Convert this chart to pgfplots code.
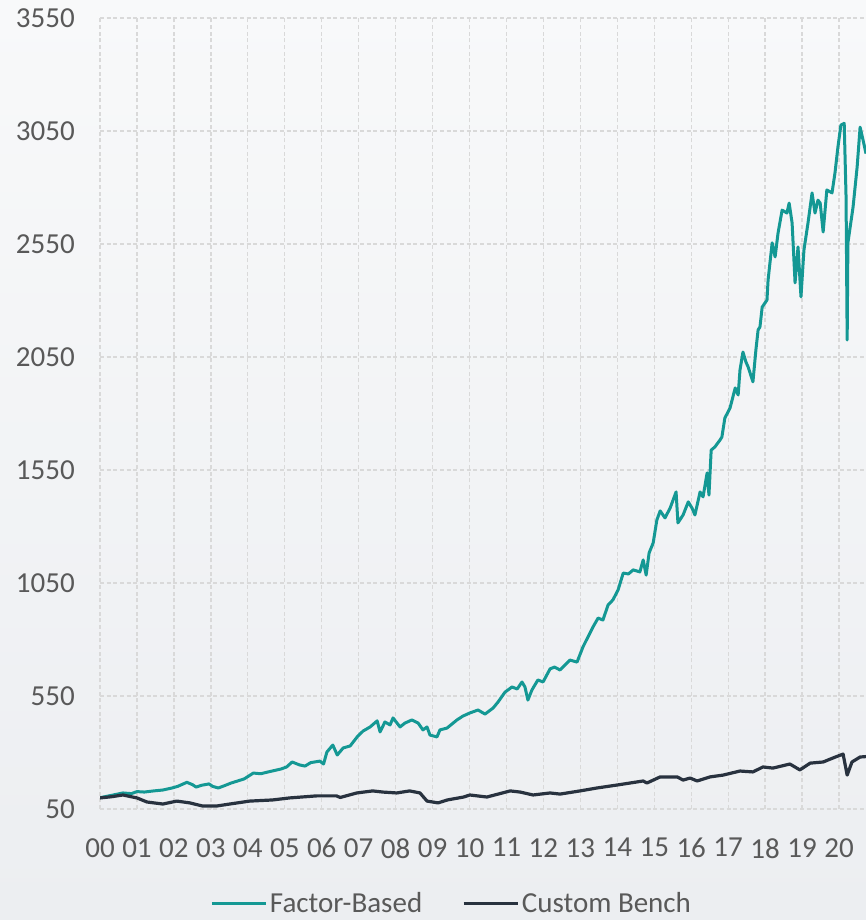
\documentclass[border=0pt]{standalone}
\usepackage{fontspec}
\setmainfont{Carlito}
\usepackage{pgfplots}
\pgfplotsset{compat=1.18}
\definecolor{tealc}{HTML}{149894}
\definecolor{navyc}{HTML}{28323F}
\definecolor{txtc}{HTML}{595959}
\definecolor{gridc}{HTML}{D9D9D9}
\definecolor{bgtop}{HTML}{F8F9FA}
\definecolor{bgbot}{HTML}{ECEEF1}
\begin{document}
\begin{tikzpicture}
\shade[top color=bgtop, bottom color=bgbot] (0,0) rectangle (649.5pt,690pt);
\begin{axis}[
  at={(75pt,83.25pt)}, anchor=south west, scale only axis,
  width=574.5pt, height=593.25pt,
  xmin=2000, xmax=2020.73, ymin=50, ymax=3550,
  xtick={2000,2001,2002,2003,2004,2005,2006,2007,2008,2009,2010,2011,2012,2013,2014,2015,2016,2017,2018,2019,2020},
  xticklabels={00,01,02,03,04,05,06,07,08,09,10,11,12,13,14,15,16,17,18,19,20},
  ytick={50,550,1050,1550,2050,2550,3050,3550},
  axis line style={draw=none}, major tick length=0pt,
  grid=major,
  major grid style={gridc, line width=1pt, dash pattern=on 3pt off 2pt},
  tick label style={font=\fontsize{21.75}{24}\selectfont, text=txtc},
  /pgf/number format/assume math mode=true,
  /pgf/number format/1000 sep={},
  yticklabel style={anchor=east, inner sep=0pt, xshift=-18.75pt},
  xticklabel style={anchor=north, inner sep=0pt, yshift=-21.75pt},
  legend style={at={(0.4595,-0.1190)}, anchor=center, draw=none, fill=none,
    font=\fontsize{21.75}{24}\selectfont, text=txtc,
    /tikz/every even column/.append style={column sep=28pt}},
  legend columns=2,
  legend image code/.code={\draw[#1, line width=2.25pt] (0pt,0pt) -- (40.5pt,0pt);},
]
\addplot[tealc, line width=2.25pt, line join=round] table {
2000.00 100
2000.30 110
2000.62 121
2000.85 118
2001.00 127
2001.20 125
2001.45 130
2001.70 134
2001.95 143
2002.10 150
2002.35 168
2002.50 158
2002.60 147
2002.75 155
2002.95 161
2003.05 150
2003.20 143
2003.35 152
2003.55 165
2003.90 183
2004.15 209
2004.35 206
2004.55 214
2004.90 227
2005.05 236
2005.20 258
2005.40 245
2005.55 240
2005.70 255
2005.95 262
2006.05 249
2006.14 302
2006.30 333
2006.42 289
2006.58 320
2006.77 329
2006.96 369
2007.12 395
2007.31 413
2007.50 440
2007.58 391
2007.71 435
2007.85 422
2007.93 453
2008.12 413
2008.25 430
2008.44 444
2008.61 430
2008.74 400
2008.85 413
2008.93 377
2009.12 369
2009.20 400
2009.39 408
2009.66 444
2009.82 461
2010.01 475
2010.23 488
2010.42 470
2010.64 497
2010.77 523
2010.96 567
2011.15 590
2011.29 581
2011.42 612
2011.50 590
2011.58 532
2011.69 577
2011.85 621
2011.99 612
2012.18 670
2012.30 678
2012.45 665
2012.60 690
2012.72 709
2012.91 700
2013.07 767
2013.26 829
2013.34 855
2013.48 895
2013.61 886
2013.75 953
2013.88 975
2014.02 1019
2014.16 1094
2014.30 1090
2014.43 1108
2014.61 1099
2014.70 1152
2014.78 1085
2014.86 1183
2014.97 1227
2015.07 1329
2015.16 1369
2015.29 1338
2015.43 1382
2015.59 1453
2015.64 1316
2015.78 1351
2015.92 1409
2016.02 1382
2016.10 1351
2016.24 1453
2016.32 1431
2016.43 1537
2016.48 1439
2016.54 1638
2016.64 1652
2016.78 1683
2016.83 1696
2016.91 1780
2017.05 1824
2017.19 1913
2017.27 1882
2017.32 1993
2017.40 2072
2017.48 2028
2017.54 2006
2017.67 1940
2017.75 2081
2017.81 2170
2017.86 2183
2017.92 2271
2018.05 2302
2018.08 2391
2018.19 2555
2018.27 2493
2018.35 2599
2018.46 2700
2018.59 2687
2018.65 2731
2018.73 2643
2018.81 2378
2018.89 2537
2018.97 2316
2019.05 2523
2019.16 2643
2019.27 2776
2019.35 2687
2019.43 2744
2019.49 2731
2019.57 2603
2019.67 2789
2019.81 2776
2019.89 2864
2019.97 2979
2020.05 3076
2020.14 3084
2020.19 2758
2020.22 2125
2020.24 2555
2020.38 2714
2020.49 2891
2020.57 3067
2020.65 3010
2020.73 2950
};
\addlegendentry{Factor-Based}
\addplot[navyc, line width=2.4pt, line join=round] table {
2000.00 99
2000.30 104
2000.62 112
2001.00 99
2001.27 81
2001.70 72
2002.08 85
2002.43 77
2002.78 63
2003.15 63
2003.51 72
2004.05 85
2004.67 90
2005.13 99
2005.86 108
2006.40 108
2006.50 101
2006.95 121
2007.38 130
2007.65 125
2008.03 121
2008.38 130
2008.66 121
2008.85 85
2009.15 77
2009.40 90
2009.84 103
2010.01 112
2010.47 103
2011.10 130
2011.37 125
2011.72 112
2012.18 121
2012.45 116
2012.99 130
2013.45 143
2013.99 156
2014.70 174
2014.80 165
2015.16 192
2015.62 192
2015.78 178
2015.97 187
2016.16 174
2016.51 192
2016.86 200
2017.32 218
2017.67 214
2017.94 236
2018.21 231
2018.67 249
2018.94 223
2019.22 253
2019.57 258
2019.84 276
2020.11 293
2020.22 200
2020.35 258
2020.57 280
2020.73 282
};
\addlegendentry{Custom Bench}
\end{axis}
\pgfresetboundingbox
\path[use as bounding box] (0,0) rectangle (649.5pt,690pt);
\end{tikzpicture}
\end{document}
